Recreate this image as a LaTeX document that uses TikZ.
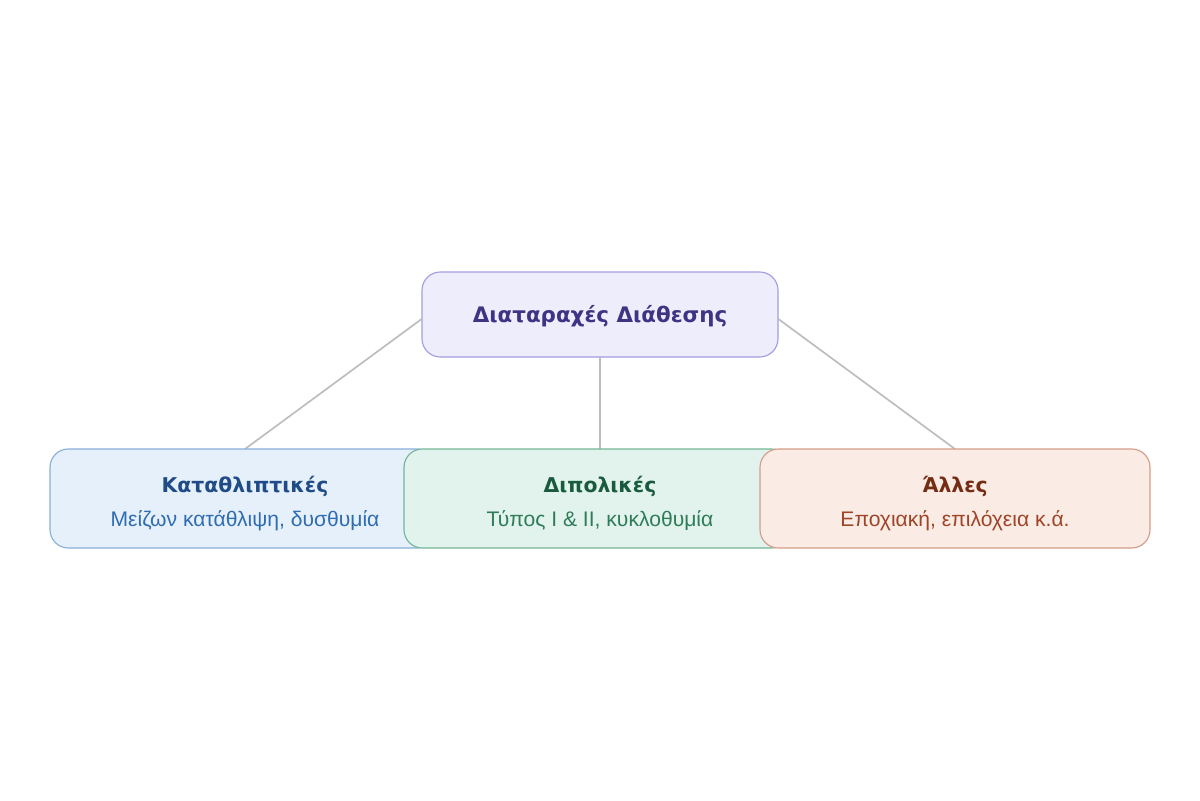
\documentclass[tikz,border=0pt]{standalone}
\usepackage{fontspec}
\setmainfont{Liberation Sans}
\newfontfamily\titlefont{DejaVu Sans}
\definecolor{topfill}{HTML}{EEEDFC}
\definecolor{topdraw}{HTML}{A59BE3}
\definecolor{toptext}{HTML}{3F3384}
\definecolor{bfill}{HTML}{E6F0FA}
\definecolor{bdraw}{HTML}{88AEDA}
\definecolor{btitle}{HTML}{1F4C86}
\definecolor{bsub}{HTML}{2F6CB0}
\definecolor{gfill}{HTML}{E1F3EC}
\definecolor{gdraw}{HTML}{74B497}
\definecolor{gtitle}{HTML}{1A5A3E}
\definecolor{gsub}{HTML}{2F7C5A}
\definecolor{ofill}{HTML}{FAEBE5}
\definecolor{odraw}{HTML}{D49C88}
\definecolor{otitle}{HTML}{742C12}
\definecolor{osub}{HTML}{9E4528}
\definecolor{linec}{HTML}{BDBDBD}
\begin{document}
\begin{tikzpicture}[x=0.025cm,y=-0.025cm,
  box/.style={draw, rounded corners=13pt, line width=0.8pt, inner sep=0pt, outer sep=0pt, anchor=north west},
  conn/.style={draw=linec, line width=1.2pt},
  ttl/.style={font=\titlefont\bfseries\fontsize{14.5}{17}\selectfont},
  sub/.style={font=\fontsize{15}{18}\selectfont}]
\useasboundingbox (0,0) rectangle (1200,800);
\coordinate (lt) at (245,449);
\coordinate (mt) at (600,449);
\coordinate (rt) at (955,449);
\node[box, fill=topfill, draw=topdraw, minimum width=356*0.025cm, minimum height=85*0.025cm] (top) at (422,272) {};
\node[ttl, text=toptext, font=\titlefont\bfseries\fontsize{15.2}{18}\selectfont] (toptxt) at (600,316) {Διαταραχές Διάθεσης};
\draw[conn] ([yshift=-3]top.west) -- (lt);
\draw[conn] (top.south) -- (mt);
\draw[conn] ([yshift=-3]top.east) -- (rt);
\node[box, fill=bfill, draw=bdraw, minimum width=386*0.025cm, minimum height=99*0.025cm] (b1) at (50,449) {};
\node[box, fill=gfill, draw=gdraw, minimum width=386*0.025cm, minimum height=99*0.025cm] (b2) at (404,449) {};
\node[box, fill=ofill, draw=odraw, minimum width=390*0.025cm, minimum height=99*0.025cm] (b3) at (760,449) {};
\node[ttl, text=btitle] (t1) at (245,486) {Καταθλιπτικές};
\node[sub, text=bsub] (s1) at (245,521) {Μείζων κατάθλιψη, δυσθυμία};
\node[ttl, text=gtitle] (t2) at (600,486) {Διπολικές};
\node[sub, text=gsub] (s2) at (600,521) {Τύπος I \& II, κυκλοθυμία};
\node[ttl, text=otitle] (t3) at (955,486) {Άλλες};
\node[sub, text=osub] (s3) at (955,521) {Εποχιακή, επιλόχεια κ.ά.};
\end{tikzpicture}
\end{document}
